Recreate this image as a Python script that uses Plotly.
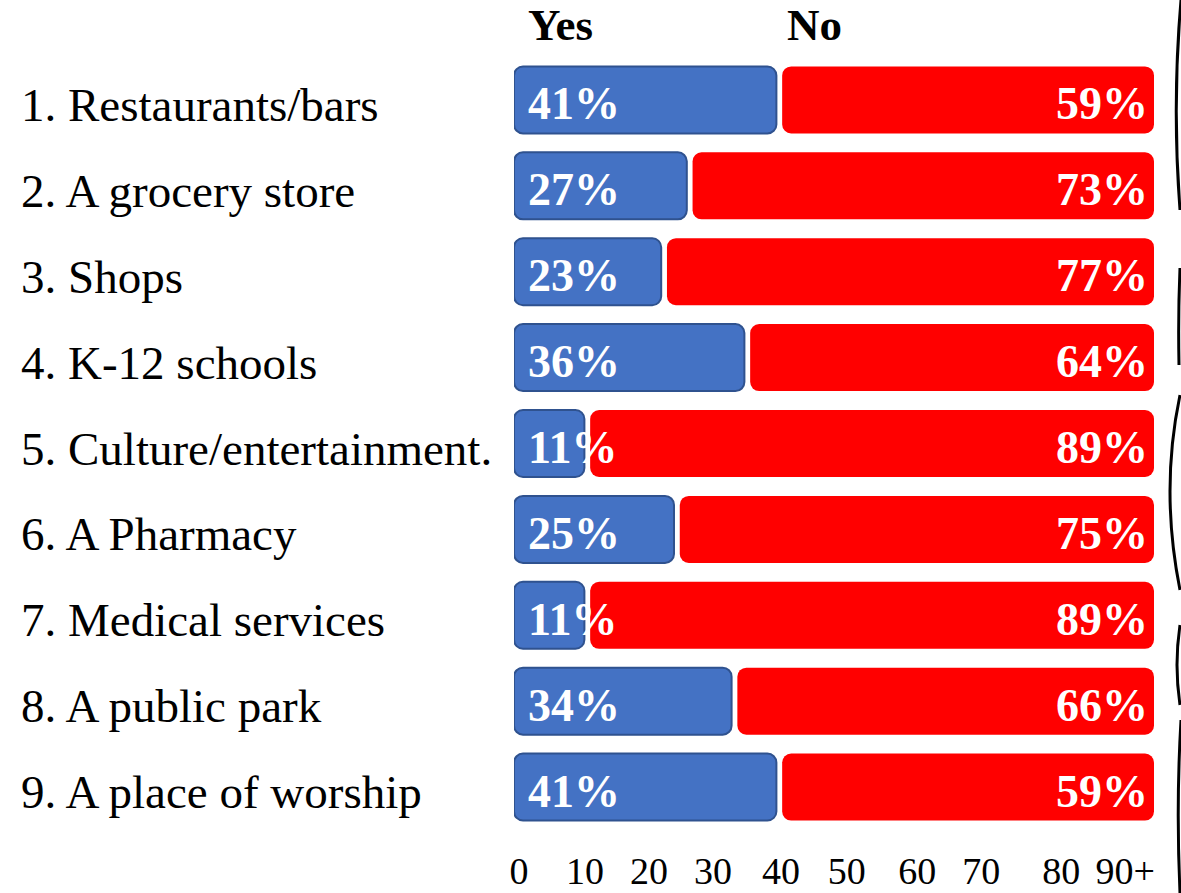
import plotly.graph_objects as go

# ---------------- data ----------------
categories = [
    "1. Restaurants/bars",
    "2. A grocery store",
    "3. Shops",
    "4. K-12 schools",
    "5. Culture/entertainment.",
    "6. A Pharmacy",
    "7. Medical services",
    "8. A public park",
    "9. A place of worship",
]
yes_pct = [41, 27, 23, 36, 11, 25, 11, 34, 41]
no_pct = [59, 73, 77, 64, 89, 75, 89, 66, 59]
tick_labels = ["0", "10", "20", "30", "40", "50", "60", "70", "80", "90+"]
tick_positions = [0.8, 11.1, 21.1, 31.1, 41.7, 52.0, 63.0, 73.0, 85.5, 95.5]

# ---------------- style ----------------
W, H = 1181, 893
ML, MR, MT, MB = 514, 27, 57, 63
BLUE = "#4472C4"
BLUE_EDGE = "#2F528F"
RED = "#FF0000"
SERIF = "Liberation Serif"
GAP = 0.9          # gap between the two segments (axis units)
BAR_W = 0.78       # bar thickness (category units)

fig = go.Figure()

red_base = [y + GAP for y in yes_pct]
red_len = [n - GAP for n in no_pct]

fig.add_trace(go.Bar(
    y=categories, x=yes_pct, base=[0] * len(yes_pct), orientation="h",
    width=BAR_W, name="Yes",
    marker=dict(color=BLUE, line=dict(color=BLUE_EDGE, width=2), cornerradius=9),
    showlegend=False, hoverinfo="skip",
))
fig.add_trace(go.Bar(
    y=categories, x=red_len, base=red_base, orientation="h",
    width=BAR_W, name="No",
    marker=dict(color=RED, line=dict(width=0), cornerradius=9),
    showlegend=False, hoverinfo="skip",
))

annotations = []
# value labels
for cat, y, n in zip(categories, yes_pct, no_pct):
    annotations.append(dict(
        x=0, y=cat, xref="x", yref="y", text=f"{y}%", showarrow=False,
        xanchor="left", yanchor="middle", xshift=12, yshift=-4,
        font=dict(family=SERIF, size=46, color="white", weight="bold"),
    ))
    annotations.append(dict(
        x=y + n, y=cat, xref="x", yref="y", text=f"{n}%", showarrow=False,
        xanchor="right", yanchor="middle", xshift=-4, yshift=-4,
        font=dict(family=SERIF, size=46, color="white", weight="bold"),
    ))
# category labels (left aligned)
label_left_paper = (19 - ML) / (W - ML - MR)
for cat in categories:
    annotations.append(dict(
        x=label_left_paper, y=cat, xref="paper", yref="y", text=cat,
        showarrow=False, xanchor="left", yanchor="middle", yshift=-5,
        font=dict(family=SERIF, size=47, color="black"),
    ))
# header
header_y = 1 + (MT - 25) / (H - MT - MB)
annotations.append(dict(
    x=0, y=header_y, xref="x", yref="paper", text="Yes", showarrow=False,
    xanchor="left", yanchor="middle", xshift=12,
    font=dict(family=SERIF, size=45, color="black", weight="bold"),
))
annotations.append(dict(
    x=yes_pct[0] + GAP, y=header_y, xref="x", yref="paper", text="No", showarrow=False,
    xanchor="left", yanchor="middle", xshift=3,
    font=dict(family=SERIF, size=45, color="black", weight="bold"),
))

# decorative wavy line on the right edge (pixel coords -> paper)
def px2paper(px, py):
    return (px - ML) / (W - ML - MR), (H - MB - py) / (H - MT - MB)


wave_segments = [
    [(1181, 0), (1172, 105), (1180, 210)],
    [(1180, 268), (1178, 315), (1179, 365)],
    [(1180, 395), (1160, 490), (1180, 590)],
    [(1180, 625), (1174, 665), (1180, 705)],
    [(1181, 720), (1176, 805), (1180, 893)],
]
shapes = []
for seg in wave_segments:
    (x0, y0), (x1, y1), (x2, y2) = [px2paper(*p) for p in seg]
    shapes.append(dict(
        type="path", xref="paper", yref="paper",
        path=f"M {x0},{y0} Q {x1},{y1} {x2},{y2}",
        line=dict(color="black", width=3),
    ))

fig.update_layout(
    width=W, height=H,
    margin=dict(l=ML, r=MR, t=MT, b=MB, pad=0, autoexpand=False),
    barmode="overlay",
    plot_bgcolor="white", paper_bgcolor="white",
    showlegend=False,
    annotations=annotations,
    shapes=shapes,
    xaxis=dict(
        range=[0, 100], showgrid=False, zeroline=False, showline=False,
        tickmode="array", tickvals=tick_positions, ticktext=tick_labels,
        ticks="", ticklabelstandoff=15, automargin=False,
        tickfont=dict(family=SERIF, size=38, color="black"),
        fixedrange=True,
    ),
    yaxis=dict(
        categoryorder="array", categoryarray=categories,
        autorange="reversed", showgrid=False, zeroline=False,
        showline=False, showticklabels=False, ticks="",
        automargin=False, fixedrange=True,
    ),
)

fig.write_html("out.html")
